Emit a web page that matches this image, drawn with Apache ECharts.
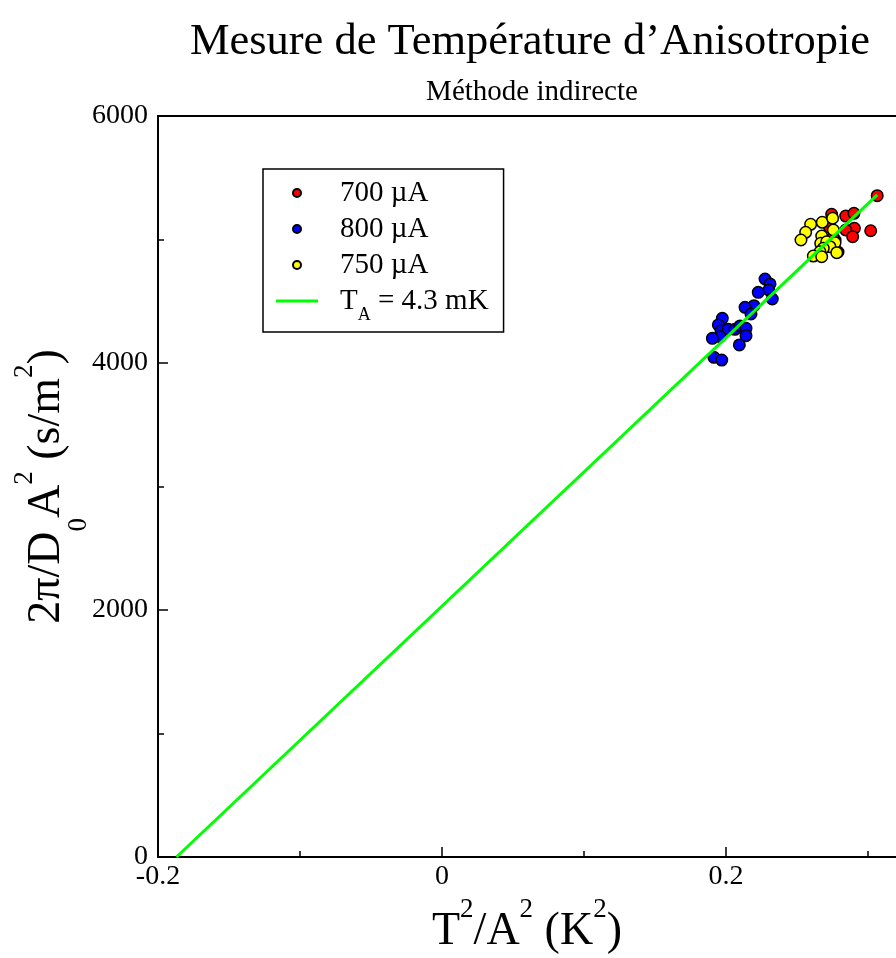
<!DOCTYPE html>
<html>
<head>
<meta charset="utf-8">
<script src="https://cdn.jsdelivr.net/npm/echarts@6/dist/echarts.min.js"></script>
<style>html,body{margin:0;padding:0;background:#fff;}#c{width:896px;height:958px;}</style>
</head>
<body>
<div id="c"></div>
<script>
// ---- data ----
const red700 = [
  [0.3065, 5355], [0.2744, 5204], [0.2843, 5190], [0.2901, 5212], [0.2904, 5091],
  [0.2843, 5077], [0.2892, 5023], [0.3019, 5071], [0.2727, 5104], [0.2768, 4996],
  [0.2789, 4899], [0.2754, 5020]
];
const blue800 = [
  [0.2275, 4680], [0.2310, 4640], [0.2301, 4591], [0.2227, 4572], [0.2326, 4518],
  [0.2197, 4464], [0.2134, 4451], [0.2176, 4397], [0.1974, 4362], [0.1946, 4308],
  [0.1965, 4259], [0.2016, 4273], [0.2063, 4273], [0.2099, 4300], [0.2141, 4281],
  [0.2141, 4221], [0.1958, 4213], [0.1904, 4200], [0.2094, 4146], [0.1915, 4046],
  [0.1970, 4024]
];
const yellow750 = [
  [0.2596, 5123], [0.2561, 5058], [0.2528, 4996], [0.2678, 5139], [0.2751, 5172],
  [0.2756, 5077], [0.2674, 5028], [0.2667, 4969], [0.2709, 4982], [0.2768, 4974],
  [0.2732, 4942], [0.2685, 4929], [0.2662, 4901], [0.2780, 4893], [0.2615, 4866],
  [0.2674, 4861]
];
const fitLine = [[-0.187, 0], [0.3065, 5362]];
const xTicks = [-0.2, 0, 0.2, 0.4];
const yTicks = [0, 2000, 4000, 6000];
const seriesNames = ['700 µA', '800 µA', '750 µA', 'fit'];

const FONT = '"Liberation Serif", "DejaVu Serif", serif';
const chart = echarts.init(document.getElementById('c'), null, {renderer: 'canvas'});

function scatter(name, data, color) {
  return {
    name: name, type: 'scatter', data: data, symbol: 'circle', symbolSize: 11.5,
    itemStyle: {color: color, borderColor: '#000', borderWidth: 1.5, opacity: 1},
    emphasis: {disabled: true}, animation: false
  };
}
// rich token helper: all tokens share total height H so offsets are explicit
const H = 100;
function tok(size, center) {
  const lh = size;
  const top = center - lh / 2;
  return {fontFamily: FONT, fontSize: size, color: '#000', lineHeight: lh,
          padding: [top, 0, H - lh - top, 0], verticalAlign: 'top'};
}

chart.setOption({
  animation: false,
  backgroundColor: '#fff',
  title: [
    {text: 'Mesure de Température d\u2019Anisotropie', left: 525, top: 15, textAlign: 'center',
     textStyle: {fontFamily: FONT, fontSize: 44.5, fontWeight: 'normal', color: '#000'}},
    {text: 'Méthode indirecte', left: 527, top: 73, textAlign: 'center',
     textStyle: {fontFamily: FONT, fontSize: 29, fontWeight: 'normal', color: '#000'}}
  ],
  grid: {left: 158, top: 116, width: 852, height: 741, show: true, outerBoundsMode: 'none',
         containLabel: false,
         borderColor: '#000', borderWidth: 2, backgroundColor: 'transparent'},
  legend: {
    orient: 'vertical', left: 263, top: 169,
    padding: [9, 15, 8, 13],
    borderColor: '#000', borderWidth: 1.5, backgroundColor: '#fff',
    itemWidth: 42, itemHeight: 8, itemGap: 6,
    data: [
      {name: seriesNames[0]}, {name: seriesNames[1]}, {name: seriesNames[2]},
      {name: seriesNames[3], icon: 'path://M0,0 H42 V3 H0 Z', itemStyle: {color: '#00ff00'}}
    ],
    textStyle: {fontFamily: FONT, fontSize: 29, color: '#000', lineHeight: 30, padding: [0, 0, 0, 17],
      rich: {
        n: {fontFamily: FONT, fontSize: 29, color: '#000', lineHeight: 30, verticalAlign: 'bottom'},
        s: {fontFamily: FONT, fontSize: 18, color: '#000', lineHeight: 18, verticalAlign: 'bottom', padding: [0, 0, -8, 0]}
      }},
    formatter: function (name) {
      if (name === 'fit') return '{n|T}{s|A}{n| = 4.3 mK}';
      return name;
    }
  },
  xAxis: {
    type: 'value', min: xTicks[0], max: xTicks[xTicks.length - 1], interval: 0.2,
    axisLine: {show: true, onZero: false, lineStyle: {color: '#000', width: 2}},
    axisTick: {show: true, inside: true, length: 10, lineStyle: {color: '#000', width: 1.5}},
    minorTick: {show: true, splitNumber: 2, length: 6, lineStyle: {color: '#000', width: 1.5}},
    splitLine: {show: false},
    axisLabel: {fontFamily: FONT, fontSize: 28, color: '#000', margin: 6,
      formatter: function (v) { return Math.abs(v) < 1e-9 ? '0' : v.toFixed(1); }},
    name: '{n|T}{p|2}{n|/A}{p|2}{n| (K}{p|2}{n|)}',
    nameLocation: 'middle', nameGap: 25, nameMoveOverlap: false,
    nameTextStyle: {fontFamily: FONT, fontSize: 46, color: '#000', padding: [0, 114, 0, 0],
      rich: { n: tok(46, 50), p: tok(27, 28) }}
  },
  yAxis: {
    type: 'value', min: yTicks[0], max: yTicks[yTicks.length - 1], interval: 2000,
    axisLine: {show: true, onZero: false, lineStyle: {color: '#000', width: 2}},
    axisTick: {show: true, inside: true, length: 10, lineStyle: {color: '#000', width: 1.5}},
    minorTick: {show: true, splitNumber: 2, length: 6, lineStyle: {color: '#000', width: 1.5}},
    splitLine: {show: false},
    axisLabel: {fontFamily: FONT, fontSize: 28, color: '#000', margin: 10,
      formatter: function (v) { return String(v); }},
    name: '{n|2\u03c0/D}{b|0}{n|A}{p|2}{n| (s/m}{p|2}{n|)}',
    nameLocation: 'middle', nameGap: 115, nameRotate: 90, nameMoveOverlap: false,
    nameTextStyle: {fontFamily: FONT, fontSize: 46, color: '#000',
      rich: { n: tok(46, 50), p: tok(27, 28), b: tok(27, 82) }}
  },
  series: [
    scatter(seriesNames[0], red700, '#ff0000'),
    scatter(seriesNames[1], blue800, '#0000ff'),
    scatter(seriesNames[2], yellow750, '#ffff00'),
    {name: seriesNames[3], type: 'line', data: fitLine, showSymbol: false, symbol: 'none',
     lineStyle: {color: '#00ff00', width: 3}, itemStyle: {color: '#00ff00'}, z: 5,
     emphasis: {disabled: true}, clip: true}
  ]
});
</script>
</body>
</html>
